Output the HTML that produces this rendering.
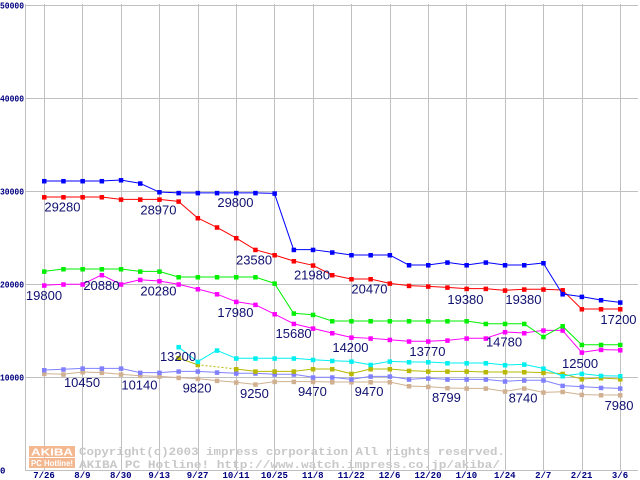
<!DOCTYPE html>
<html><head><meta charset="utf-8"><style>
html,body{margin:0;padding:0;background:#fff;}
svg{display:block;}
</style></head><body>
<svg id="chart" width="640" height="480" xmlns="http://www.w3.org/2000/svg" font-family="'Liberation Sans', sans-serif"></svg>
<script>
const xLabels = ["7/26","8/9","8/30","9/13","9/27","10/11","10/25","11/8","11/22","12/6","12/20","1/10","1/24","2/7","2/21","3/6"];
const yTicks = [0,10000,20000,30000,40000,50000];
const seriesBlue = [31080,31080,31080,31080,31180,30830,29890,29800,29800,29800,29800,29800,29750,23690,23690,23410,23120,23120,23120,22040,22040,22330,22040,22330,22040,22040,22260,18920,18640,18280,18030];
const seriesRed = [29350,29350,29350,29350,29100,29100,29100,28890,27100,26100,24950,23690,23120,22470,22010,20970,20540,20540,20070,19820,19750,19640,19500,19500,19320,19430,19430,19350,17310,17310,17310];
const seriesGreen = [21360,21610,21610,21610,21610,21360,21360,20750,20750,20750,20750,20750,20070,16850,16700,16020,16020,16020,16020,16020,16020,16020,16020,15730,15730,15730,14330,15480,13470,13470,13470];
const seriesMagenta = [19860,19970,19970,20970,19970,20460,20320,19970,19460,18920,18100,17780,16770,15730,15230,14730,14260,14160,14010,13840,13840,13940,14160,14160,14840,14730,15020,15020,12650,12940,12900];
const seriesCyan = [null,null,null,null,null,null,null,13230,11650,12870,12010,12010,12010,12010,11860,11750,11680,11320,11680,11610,11610,11500,11500,11500,11290,11360,10930,10110,10360,10140,10110];
const seriesOlive = [null,null,null,null,null,null,null,12050,11320,null,10860,10610,10610,10610,10860,10860,10360,10860,10860,10680,10610,10610,10610,10540,10540,10540,10470,10360,9780,9890,9780];
const seriesLavender = [10750,10830,10930,10930,10930,10470,10470,10610,10610,10500,10400,10400,10290,10290,9970,9970,9750,10070,10070,9750,9860,9750,9750,9750,9540,9650,9650,9070,8960,8850,8780];
const seriesTan = [10360,10290,10540,10470,10290,10140,10070,9930,9820,9610,9430,9210,9500,9500,9500,9460,9460,9460,9460,9030,8960,8820,8780,8780,8460,8780,8350,8420,8100,8060,8060];
const annotTexts = ["29280","28970","29800","23580","21980","19800","20880","20280","17980","20470","19380","19380","17200","15680","14200","13770","14780","12500","13200","10450","10140","9820","9250","9470","9470","8799","8740","7980"];
const annotIdx = [0.96,5.96,9.97,10.94,13.96,0,2.99,5.96,9.97,16.95,21.95,24.97,29.92,13,15.96,19.97,23.96,27.92,6.98,1.98,4.97,7.97,10.96,13.98,16.93,20.96,24.95,29.95];
const annotVals = [29280,28970,29800,23580,21980,19800,20880,20280,17980,20470,19380,19380,17200,15680,14200,13770,14780,12500,13200,10450,10140,9820,9250,9470,9470,8799,8740,7980];

const svg = document.getElementById('chart');
const NS = 'http://www.w3.org/2000/svg';
const X0 = 44, DX = 19.2, Y0 = 470, PY = 93/10000;
function xs(i){ return X0 + i*DX; }
function ys(v){ return Y0 - v*PY; }
function mk(tag, attrs){ const e=document.createElementNS(NS,tag); for(const k in attrs) e.setAttribute(k,attrs[k]); svg.appendChild(e); return e; }

yTicks.forEach(function(t){
  const l = mk('line',{x1:25,x2:638,y1:ys(t)+0.5,y2:ys(t)+0.5,stroke:'#c0c0c0','stroke-width':1});
  
  
  const tx = mk('text',{x:0,y:ys(t)+3.5,'font-size':9,'font-weight':'bold',fill:'#000080','font-family':"'Liberation Mono', monospace"});
  tx.textContent = t;
  if(t>0){ tx.setAttribute('textLength',24); tx.setAttribute('lengthAdjust','spacingAndGlyphs'); }
  
  
});
const ax = mk('line',{x1:25.5,x2:25.5,y1:4,y2:471,stroke:'#c0c0c0','stroke-width':1});


xLabels.forEach(function(lab,k){
  const x = xs(k*2);
  const l = mk('line',{x1:Math.round(x)+0.5,x2:Math.round(x)+0.5,y1:4,y2:471,stroke:'#c0c0c0','stroke-width':1});
  
  
  const tx = mk('text',{x:x,y:478,'text-anchor':'middle','font-size':9,'font-weight':'bold',fill:'#000080','font-family':"'Liberation Mono', monospace"});
  tx.textContent = lab;
  
  
});

const wm1 = mk('rect',{x:29,y:446,width:46,height:11,fill:'#f4b890'});


const wm2 = mk('rect',{x:29,y:458,width:46,height:10,fill:'#f4b890'});


const wt0 = mk('text',{x:31,y:455.5,'font-size':10,'font-weight':'bold',fill:'#ffffff',textLength:42,lengthAdjust:'spacingAndGlyphs'});
wt0.textContent='AKIBA';


const wt0b = mk('text',{x:31,y:466,'font-size':8,'font-weight':'bold',fill:'#ffffff',textLength:42,lengthAdjust:'spacingAndGlyphs'});
wt0b.textContent='PC Hotline!';


const wt1 = mk('text',{x:79,y:455,'font-size':11,'font-weight':'bold',fill:'#c8c8c8','font-family':"'Liberation Mono', monospace",textLength:426,lengthAdjust:'spacingAndGlyphs'});
wt1.textContent='Copyright(c)2003 impress corporation All rights reserved.';


const wt2 = mk('text',{x:79,y:468,'font-size':11,'font-weight':'bold',fill:'#c8c8c8','font-family':"'Liberation Mono', monospace",textLength:421,lengthAdjust:'spacingAndGlyphs'});
wt2.textContent='AKIBA PC Hotline!  http://www.watch.impress.co.jp/akiba/';



function drawSeries(vals, color, name){
  for(let i=0;i<vals.length;i++){
    if(vals[i]===null) continue;
    let j=i+1; while(j<vals.length && vals[j]===null) j++;
    if(j<vals.length){
      const dashed = (j-i>1);
      const l = mk('line',{x1:xs(i),y1:ys(vals[i]),x2:xs(j),y2:ys(vals[j]),stroke:color,'stroke-width':1});
      if(dashed) l.setAttribute('stroke-dasharray','2,2');
      
      
    }
  }
  vals.forEach(function(v,i){
    if(v===null) return;
    const r = mk('rect',{x:xs(i)-2,y:ys(v)-2,width:4.5,height:4.5,fill:color});
    
    
  });
}
drawSeries(seriesTan,'#d0b090','tan-series');
drawSeries(seriesLavender,'#8080ff','lavender-series');
drawSeries(seriesOlive,'#b8b800','olive-series');
drawSeries(seriesCyan,'#00f0f0','cyan-series');
drawSeries(seriesMagenta,'#ff00ff','magenta-series');
drawSeries(seriesGreen,'#00f000','green-series');
drawSeries(seriesRed,'#ff0000','red-series');
drawSeries(seriesBlue,'#0000ff','blue-series');

annotTexts.forEach(function(t,k){
  const tx = mk('text',{x:xs(annotIdx[k]),y:ys(annotVals[k])+14,'text-anchor':'middle','font-size':13,fill:'#101070'});
  tx.textContent = t;
  
  
});
</script>
</body></html>
